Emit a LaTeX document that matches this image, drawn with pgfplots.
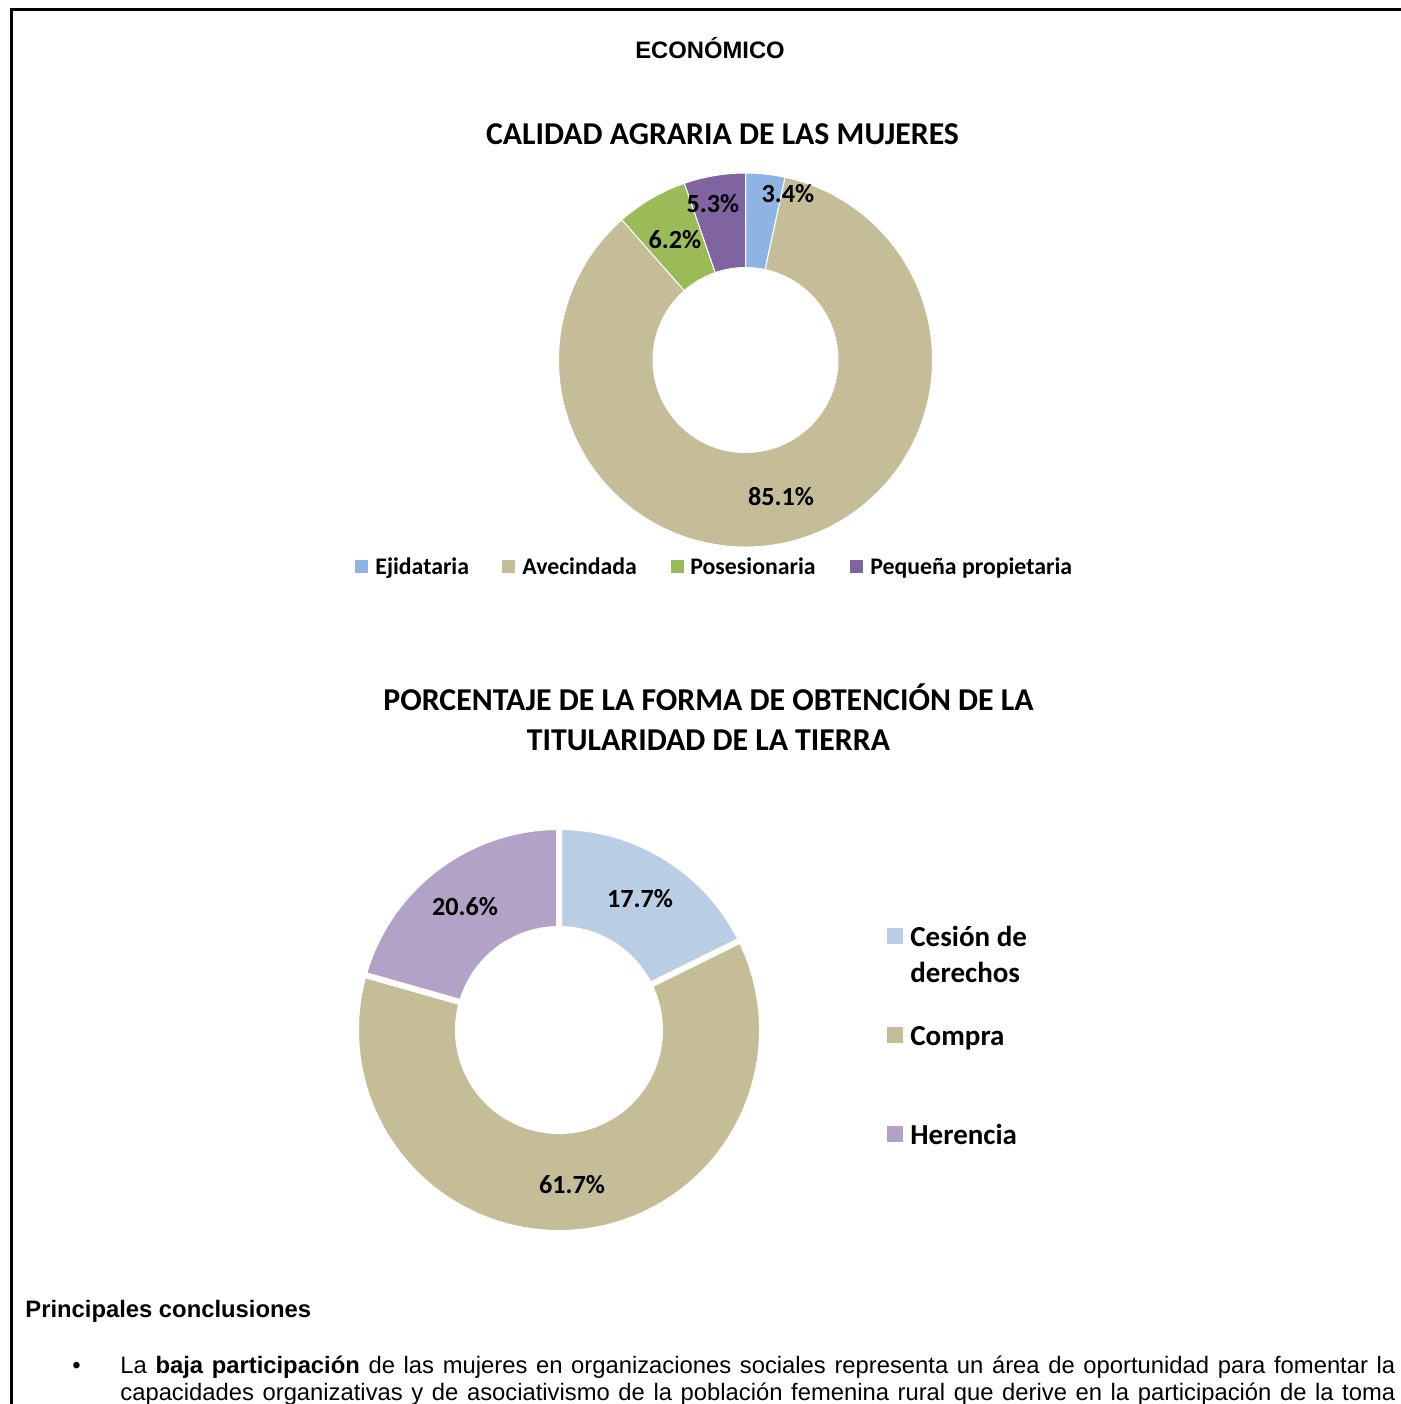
\documentclass[border=0pt]{standalone}
\usepackage{pgfplots}
\pgfplotsset{compat=1.18}
\usetikzlibrary{calc}
\usepackage{fontspec}
\setmainfont{Liberation Sans}
\newfontfamily\calibri{Carlito}

\definecolor{ejid}{HTML}{8DB4E2}
\definecolor{avec}{HTML}{C4BD97}
\definecolor{pose}{HTML}{9BBB59}
\definecolor{pequ}{HTML}{8064A2}
\definecolor{cesi}{HTML}{B9CDE5}
\definecolor{comp}{HTML}{C4BD97}
\definecolor{here}{HTML}{B3A2C7}

% #1 cx, #2 cy (px), #3 outer R (px), #4 inner r (px), #5 gap line width, #6 list value/colour
\newcommand\donut[6]{%
  \gdef\cum{0}%
  \foreach \v/\c in {#6} {%
    \pgfmathsetmacro\aone{90-3.6*\cum}%
    \pgfmathsetmacro\atwo{90-3.6*(\cum+\v)}%
    \pgfmathsetmacro\ro{#3*0.5}%
    \pgfmathsetmacro\ri{#4*0.5}%
    \edef\tmp{\noexpand\filldraw[fill=\c, draw=white, line width=#5, line join=miter]
      ($(axis cs:#1,#2)+(\aone:\ro pt)$) arc[start angle=\aone, end angle=\atwo, radius=\ro pt]
      -- ($(axis cs:#1,#2)+(\atwo:\ri pt)$) arc[start angle=\atwo, end angle=\aone, radius=\ri pt] -- cycle;}%
    \tmp
    \pgfmathsetmacro\nc{\cum+\v}\xdef\cum{\nc}%
  }%
}

\begin{document}
\begin{tikzpicture}
\begin{axis}[
  at={(0,0)}, anchor=south west,
  scale only axis, width=700.5pt, height=702pt,
  xmin=0, xmax=1401, ymin=0, ymax=1404, y dir=reverse,
  hide axis, clip=false]

% frame
\draw[line width=1.5pt] (axis cs:11,1404) -- (axis cs:11,9.5) -- (axis cs:1401,9.5);

\node[font=\fontsize{11.9pt}{14pt}\selectfont\bfseries, anchor=base] at (axis cs:710,58) {ECONÓMICO};

% ---- chart 1
\node[font=\calibri\fontsize{15.9pt}{19pt}\selectfont\bfseries, anchor=base] at (axis cs:722.5,144) {CALIDAD AGRARIA DE LAS MUJERES};
\donut{745.5}{360}{187}{92.5}{0.5pt}{3.4/ejid, 85.1/avec, 6.2/pose, 5.3/pequ}
\begin{scope}[every node/.style={font=\calibri\fontsize{13.1pt}{15pt}\selectfont\bfseries}]
\node at (axis cs:788,194) {3.4\%};
\node at (axis cs:713,204) {5.3\%};
\node at (axis cs:675,240) {6.2\%};
\node at (axis cs:781,497) {85.1\%};
\end{scope}
% legend 1
\begin{scope}[every node/.style={font=\calibri\fontsize{11.9pt}{14pt}\selectfont\bfseries, anchor=base west, inner sep=0pt}]
\fill[ejid] (axis cs:355,560) rectangle (axis cs:368,573);
\node at (axis cs:375,574) {Ejidataria};
\fill[avec] (axis cs:502,560) rectangle (axis cs:515,573);
\node at (axis cs:522,574) {Avecindada};
\fill[pose] (axis cs:671,560) rectangle (axis cs:684,573);
\node at (axis cs:690,574) {Posesionaria};
\fill[pequ] (axis cs:850,560) rectangle (axis cs:863,573);
\node at (axis cs:870,574) {Pequeña propietaria};
\end{scope}

% ---- chart 2
\node[font=\calibri\fontsize{15.9pt}{20pt}\selectfont\bfseries, anchor=base] at (axis cs:708.5,710) {PORCENTAJE DE LA FORMA DE OBTENCIÓN DE LA};
\node[font=\calibri\fontsize{15.9pt}{20pt}\selectfont\bfseries, anchor=base] at (axis cs:708.5,750) {TITULARIDAD DE LA TIERRA};
\donut{559}{1030}{203}{101}{3pt}{17.7/cesi, 61.7/comp, 20.6/here}
\begin{scope}[every node/.style={font=\calibri\fontsize{13.1pt}{15pt}\selectfont\bfseries}]
\node at (axis cs:640,899) {17.7\%};
\node at (axis cs:465,907) {20.6\%};
\node at (axis cs:572,1185) {61.7\%};
\end{scope}
% legend 2
\begin{scope}[every node/.style={font=\calibri\fontsize{14.5pt}{17pt}\selectfont\bfseries, anchor=base west, inner sep=0pt}]
\fill[cesi] (axis cs:887,928) rectangle (axis cs:903,944);
\node at (axis cs:910,946) {Cesión de};
\node at (axis cs:910,982) {derechos};
\fill[comp] (axis cs:887,1027) rectangle (axis cs:903,1043);
\node at (axis cs:910,1045) {Compra};
\fill[here] (axis cs:887,1126) rectangle (axis cs:903,1142);
\node at (axis cs:910,1144) {Herencia};
\end{scope}

% ---- text
\begin{scope}[every node/.style={font=\fontsize{11.9pt}{14pt}\selectfont, anchor=base west, inner sep=0pt}]
\node[font=\fontsize{11.9pt}{14pt}\selectfont\bfseries] at (axis cs:25,1317) {Principales conclusiones};
\node at (axis cs:72,1373) {•};
\node at (axis cs:120,1373) {\makebox[637.5pt][s]{La \textbf{baja participación} de las mujeres en organizaciones sociales representa un área de oportunidad para fomentar la}};
\node at (axis cs:120,1400) {\makebox[637.5pt][s]{capacidades organizativas y de asociativismo de la población femenina rural que derive en la participación de la toma}};
\end{scope}
\end{axis}
\pgfresetboundingbox
\path (0,0) rectangle (700.5pt,702pt);
\end{tikzpicture}
\end{document}
